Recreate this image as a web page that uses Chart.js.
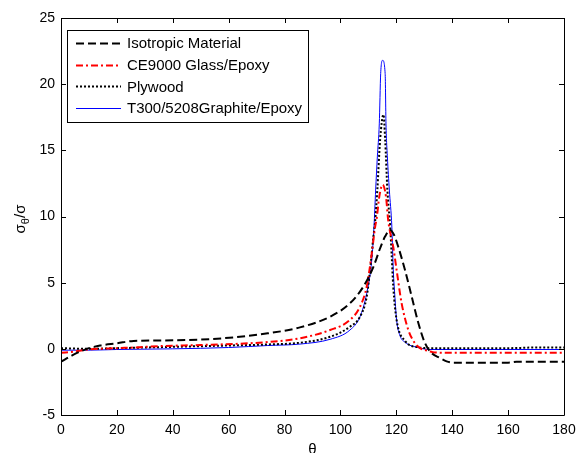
<!DOCTYPE html>
<html>
<head>
<meta charset="utf-8">
<script src="https://cdn.jsdelivr.net/npm/chart.js@4"></script>
<style>
  html, body { margin: 0; padding: 0; background: #fff; }
  canvas { display: block; }
</style>
</head>
<body>
<canvas id="chart" width="576" height="453"></canvas>
<script>
// values
const seriesNames = ['Isotropic Material', 'CE9000 Glass/Epoxy', 'Plywood', 'T300/5208Graphite/Epoxy'];

const isoTheta = [0, 4, 9, 14, 20, 26, 35, 50, 62, 74, 85.5, 96.3, 103.4, 108.2, 111.8, 114.2, 116, 117.8, 119.2, 120.7, 123.1, 125.5, 127.9, 130.3, 132.7, 135.7, 138, 140.4, 150, 160, 163, 170, 180];
const isoSigma = [-0.97, -0.5, -0.02, 0.25, 0.42, 0.6, 0.63, 0.7, 0.87, 1.17, 1.62, 2.43, 3.44, 4.7, 6.2, 7.6, 8.5, 8.98, 8.6, 7.7, 5.96, 3.94, 1.93, 0.41, -0.34, -0.7, -0.95, -1.05, -1.05, -1.05, -0.97, -0.97, -0.97];

const glassTheta = [0, 5, 10, 20, 26, 35, 50, 62, 74, 85.5, 96.3, 103.4, 107, 109.4, 111.2, 112.4, 113, 113.9, 115.1, 116.3, 117.1, 118.9, 120.1, 121.9, 124.3, 126.7, 128.5, 130.3, 133, 140, 160, 180];
const glassSigma = [-0.3, -0.2, -0.05, 0.05, 0.1, 0.2, 0.29, 0.37, 0.51, 0.8, 1.42, 2.18, 3.18, 4.7, 7.2, 9.2, 9.9, 11.5, 12.4, 11.5, 9.7, 7.7, 5.96, 3.44, 1.42, 0.41, 0.05, -0.09, -0.25, -0.3, -0.3, -0.3];

const plyTheta = [0, 10, 20, 30, 40, 50, 60, 74, 85.5, 96.3, 103.4, 107, 109.4, 110.6, 111.8, 112.4, 113.2, 114.2, 115.4, 116, 116.8, 117.8, 118.3, 118.9, 120.1, 123.1, 127.9, 132, 140, 160, 170, 180];
const plySigma = [0.05, 0, 0.05, 0.1, 0.15, 0.2, 0.25, 0.33, 0.46, 0.91, 1.67, 2.43, 3.94, 5.96, 8.5, 9.6, 12, 15.8, 17.7, 15.8, 12, 9.2, 7.2, 4.7, 2.18, 0.6, 0.12, 0.05, 0.05, 0.05, 0.1, 0.1];

const graphTheta = [0, 10, 20, 40, 60, 74, 85.5, 96.3, 103.4, 107, 109.4, 111.2, 112, 112.6, 113.2, 113.9, 114.4, 115.1, 116, 116.3, 116.8, 117.5, 118.4, 118.9, 119.5, 120.1, 121.3, 123.1, 127.9, 132, 180];
const graphSigma = [-0.1, -0.1, -0.05, 0, 0.1, 0.25, 0.36, 0.72, 1.42, 2.43, 4.2, 6.7, 9.2, 12, 14.5, 17, 20.8, 21.8, 20.8, 17, 14.5, 12, 9.2, 6.0, 3.9, 2.18, 1.0, 0.5, 0.09, -0.05, -0.05];

const xTicks = [0, 20, 40, 60, 80, 100, 120, 140, 160, 180];
const yTicks = [-5, 0, 5, 10, 15, 20, 25];

const FONT = '"Liberation Sans", Arial, sans-serif';

const toPoints = (xs, ys) => xs.map((x, i) => ({ x: x, y: ys[i] }));

const styles = [
    { color: '#000000', width: 2, dash: [8, 4] },
    { color: '#ff0000', width: 2, dash: [7, 3, 2, 3] },
    { color: '#000000', width: 2, dash: [2, 2] },
    { color: '#0000ff', width: 1, dash: [] }
];
const pairs = [[isoTheta, isoSigma], [glassTheta, glassSigma], [plyTheta, plySigma], [graphTheta, graphSigma]];

const datasets = seriesNames.map((name, i) => ({
    label: name,
    data: toPoints(pairs[i][0], pairs[i][1]),
    borderColor: styles[i].color,
    borderWidth: styles[i].width,
    borderDash: styles[i].dash,
    pointRadius: 0,
    fill: false,
    cubicInterpolationMode: 'monotone'
}));

// box, inward ticks, axis titles and the legend box, drawn MATLAB-style
const framePlugin = {
    id: 'frame',
    afterDatasetsDraw(chart) {
        const { ctx, chartArea: a, scales } = chart;
        const xs = scales.x, ys = scales.y;
        ctx.save();
        ctx.strokeStyle = '#000';
        ctx.lineWidth = 1;
        ctx.setLineDash([]);
        ctx.beginPath();
        ctx.rect(Math.round(a.left) + 0.5, Math.round(a.top) + 0.5, Math.round(a.right - a.left), Math.round(a.bottom - a.top));
        xTicks.forEach(v => {
            const px = Math.round(xs.getPixelForValue(v)) + 0.5;
            ctx.moveTo(px, a.bottom); ctx.lineTo(px, a.bottom - 5);
            ctx.moveTo(px, a.top); ctx.lineTo(px, a.top + 5);
        });
        yTicks.forEach(v => {
            const py = Math.round(ys.getPixelForValue(v)) + 0.5;
            ctx.moveTo(a.left, py); ctx.lineTo(a.left + 5, py);
            ctx.moveTo(a.right, py); ctx.lineTo(a.right - 5, py);
        });
        ctx.stroke();

        // legend
        const lx = 67, ly = 30, lw = 241, lh = 92;
        ctx.fillStyle = '#fff';
        ctx.fillRect(lx, ly, lw, lh);
        ctx.strokeRect(lx + 0.5, ly + 0.5, lw, lh);
        ctx.font = '15px ' + FONT;
        ctx.textBaseline = 'middle';
        ctx.textAlign = 'left';
        chart.data.datasets.forEach((ds, i) => {
            const y = ly + 13 + i * 21.7;
            ctx.beginPath();
            ctx.strokeStyle = ds.borderColor;
            ctx.lineWidth = ds.borderWidth;
            ctx.setLineDash(ds.borderDash);
            ctx.moveTo(76, Math.round(y) + 0.5);
            ctx.lineTo(121, Math.round(y) + 0.5);
            ctx.stroke();
            ctx.fillStyle = '#000';
            ctx.fillText(ds.label, 127, y + 1);
        });
        ctx.setLineDash([]);

        // axis titles
        ctx.fillStyle = '#000';
        ctx.textAlign = 'center';
        ctx.textBaseline = 'middle';
        ctx.font = '15px ' + FONT;
        ctx.fillText('\u03b8', (a.left + a.right) / 2, 450);

        ctx.translate(21, 219);
        ctx.rotate(-Math.PI / 2);
        ctx.textAlign = 'left';
        ctx.textBaseline = 'alphabetic';
        const big = '15px ' + FONT, small = '11px ' + FONT;
        ctx.font = big; const w1 = ctx.measureText('\u03c3').width;
        ctx.font = small; const w2 = ctx.measureText('\u03b8').width;
        ctx.font = big; const w3 = ctx.measureText('/\u03c3').width;
        let x0 = -(w1 + w2 + w3) / 2;
        ctx.font = big; ctx.fillText('\u03c3', x0, 4);
        ctx.font = small; ctx.fillText('\u03b8', x0 + w1, 8);
        ctx.font = big; ctx.fillText('/\u03c3', x0 + w1 + w2, 4);
        ctx.restore();
    }
};

new Chart(document.getElementById('chart'), {
    type: 'line',
    data: { datasets: datasets },
    options: {
        responsive: false,
        animation: false,
        devicePixelRatio: 1,
        layout: { padding: { left: 0, right: 0, top: 18, bottom: 0 } },
        plugins: { legend: { display: false }, tooltip: { enabled: false } },
        scales: {
            x: {
                type: 'linear',
                min: 0, max: 180,
                afterBuildTicks: s => { s.ticks = xTicks.map(v => ({ value: v })); },
                afterFit: s => { s.height = 38; s.paddingRight = 12; },
                grid: { display: false, drawTicks: false },
                border: { display: false },
                ticks: { color: '#000', padding: 7, maxRotation: 0, font: { family: FONT, size: 14 } }
            },
            y: {
                type: 'linear',
                min: -5, max: 25,
                afterBuildTicks: s => { s.ticks = yTicks.map(v => ({ value: v })); },
                afterFit: s => { s.width = 61; },
                grid: { display: false, drawTicks: false },
                border: { display: false },
                ticks: { color: '#000', padding: 6, font: { family: FONT, size: 14 } }
            }
        }
    },
    plugins: [framePlugin]
});
</script>
</body>
</html>
